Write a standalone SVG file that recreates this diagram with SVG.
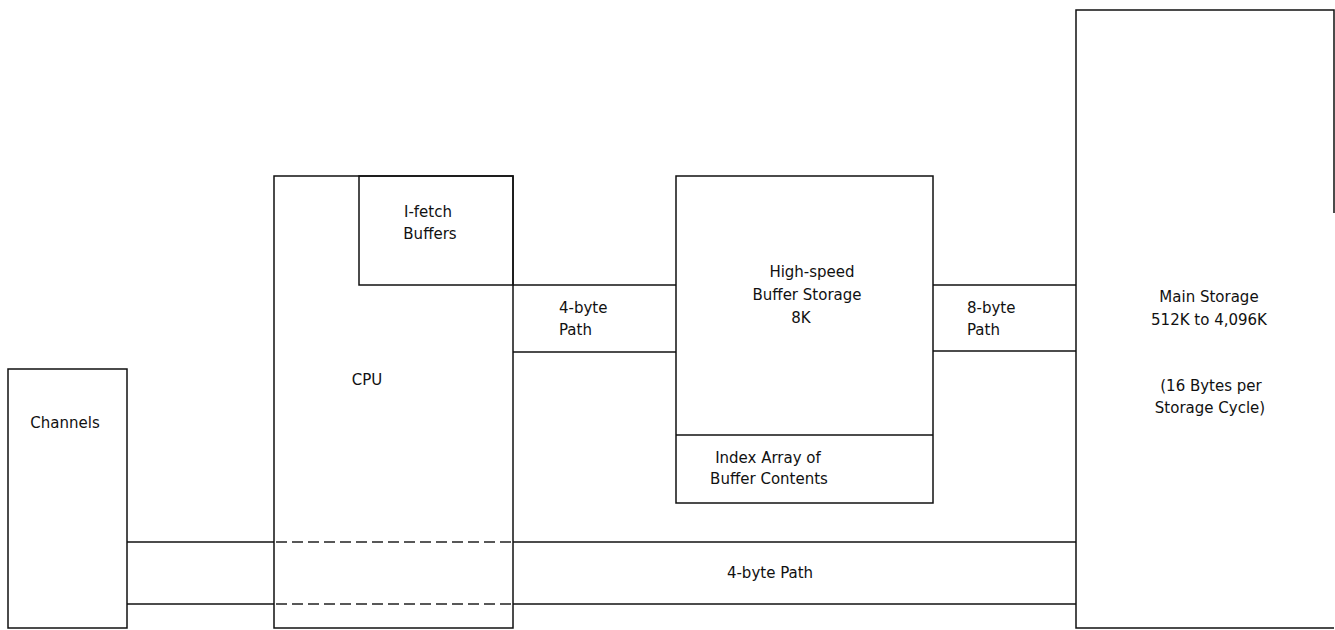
<svg xmlns="http://www.w3.org/2000/svg" width="1335" height="630" viewBox="0 0 1335 630">
<style>
.b{fill:none;stroke:#111;stroke-width:1.5}
.d{fill:none;stroke:#222;stroke-width:1.5;stroke-dasharray:11 5}
text{font-family:"DejaVu Sans","Liberation Sans",sans-serif;font-size:15px;fill:#111}
.m{text-anchor:middle}
</style>
<rect width="1335" height="630" fill="#fff"/>
<g id="connectors">
<line class="b" x1="513" y1="285" x2="676" y2="285"/>
<line class="b" x1="513" y1="352" x2="676" y2="352"/>
<text x="559" y="313">4-byte</text>
<text x="559" y="335">Path</text>
<line class="b" x1="933" y1="285" x2="1076" y2="285"/>
<line class="b" x1="933" y1="351" x2="1076" y2="351"/>
<text x="967" y="313">8-byte</text>
<text x="967" y="335">Path</text>
<line class="b" x1="127" y1="542" x2="274" y2="542"/>
<line class="b" x1="127" y1="604" x2="274" y2="604"/>
<line class="d" x1="276" y1="542" x2="513" y2="542"/>
<line class="d" x1="276" y1="604" x2="513" y2="604"/>
<line class="b" x1="513" y1="542" x2="1076" y2="542"/>
<line class="b" x1="513" y1="604" x2="1076" y2="604"/>
<text class="m" x="770" y="578">4-byte Path</text>
</g>
<g id="channels">
<rect class="b" x="8" y="369" width="119" height="259"/>
<text class="m" x="65" y="428">Channels</text>
</g>
<g id="cpu">
<rect class="b" x="274" y="176" width="239" height="452"/>
<text class="m" x="367" y="385">CPU</text>
</g>
<g id="ifetch">
<rect class="b" x="359" y="176" width="154" height="109"/>
<text class="m" x="428" y="217">I-fetch</text>
<text class="m" x="430" y="239">Buffers</text>
</g>
<g id="buffer">
<rect class="b" x="676" y="176" width="257" height="327"/>
<text class="m" x="812" y="277">High-speed</text>
<text class="m" x="807" y="300">Buffer Storage</text>
<text class="m" x="801" y="323">8K</text>
</g>
<g id="index">
<line class="b" x1="676" y1="435" x2="933" y2="435"/>
<text class="m" x="768" y="463">Index Array of</text>
<text class="m" x="769" y="484">Buffer Contents</text>
</g>
<g id="main">
<path class="b" d="M1334,213 V10 H1076 V628 H1334"/>
<text class="m" x="1209" y="302">Main Storage</text>
<text class="m" x="1209" y="325">512K to 4,096K</text>
<text class="m" x="1211" y="391">(16 Bytes per</text>
<text class="m" x="1210" y="413">Storage Cycle)</text>
</g>
</svg>
